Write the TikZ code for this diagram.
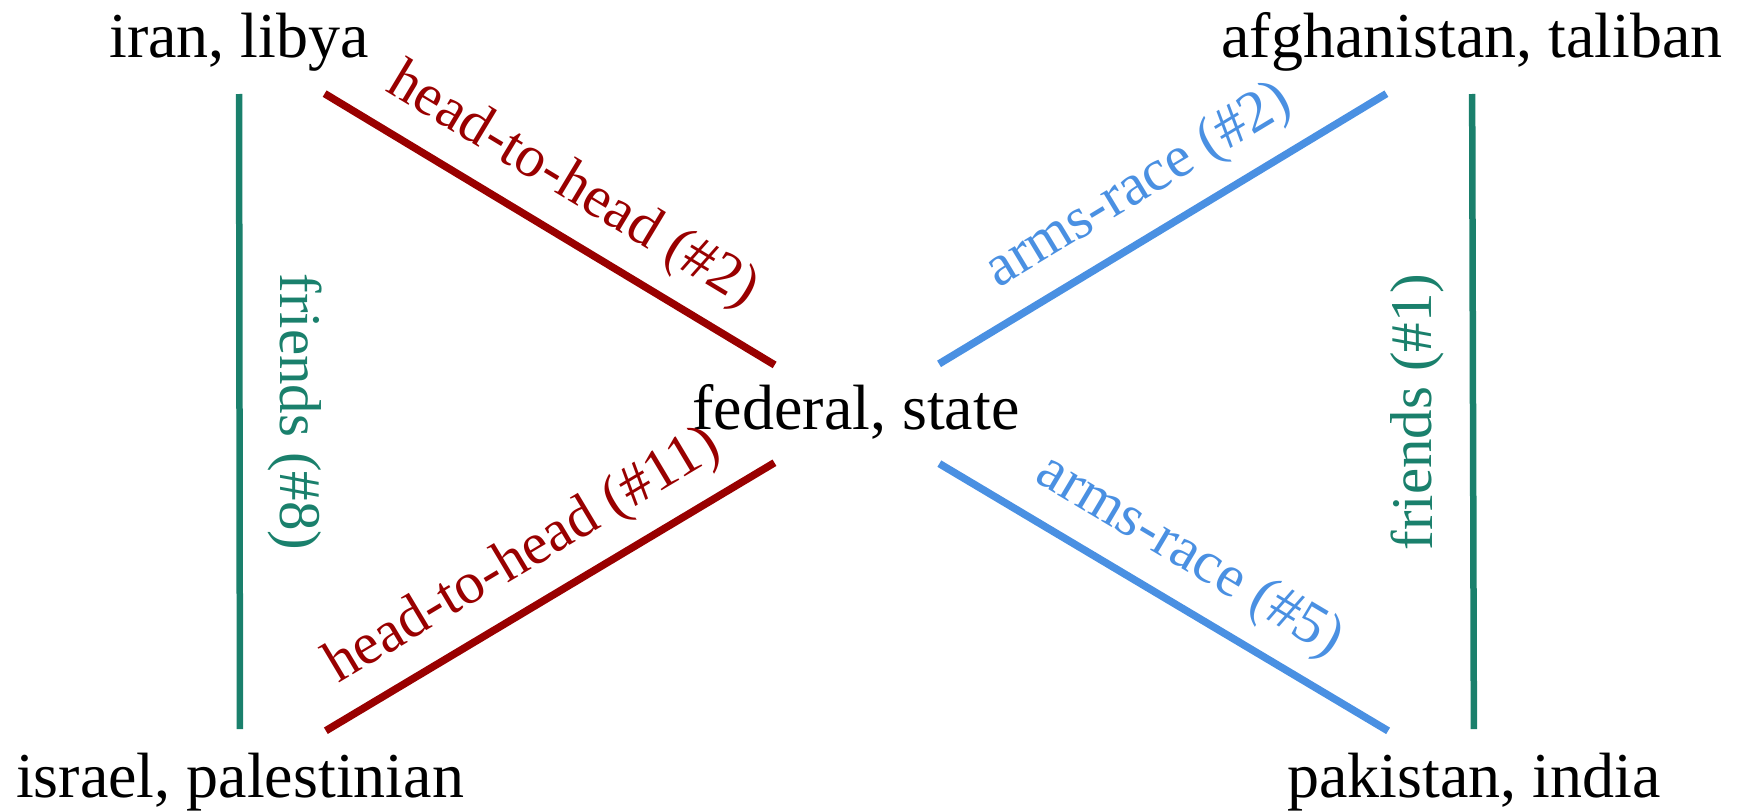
\documentclass[tikz,border=0pt]{standalone}
\usepackage{fontspec}
\setmainfont{Liberation Serif}
\definecolor{redc}{RGB}{153,0,0}
\definecolor{bluec}{RGB}{74,144,226}
\definecolor{greenc}{RGB}{26,128,108}
\tikzset{
  term/.style={font=\fontsize{64}{70}\selectfont, inner sep=0pt, text height=45pt, text depth=14pt},
  lab/.style={font=\fontsize{59}{64}\selectfont, inner sep=0pt, text height=41pt, text depth=13pt, sloped, midway},
  redline/.style={draw=redc, line width=7.5pt},
  blueline/.style={draw=bluec, line width=7.5pt},
  greenline/.style={draw=greenc, line width=6.5pt},
}
\begin{document}
\begin{tikzpicture}[x=1pt,y=-1pt]
\useasboundingbox (0,0) rectangle (1744,811);
\node[term] (iran) at (239,42) {iran, libya};
\node[term] (afg) at (1472,42) {afghanistan, taliban};
\node[term] (fed) at (856,414) {federal, state};
\node[term] (isr) at (240,782) {israel, palestinian};
\node[term] (pak) at (1474,782) {pakistan, india};

\draw[greenline, shorten <=52pt, shorten >=53pt] (iran.center) -- (isr.center)
  node[lab, above=25pt, text=greenc] {friends (\#8)};
\draw[greenline, shorten <=53pt, shorten >=52pt] (pak.center) -- (afg.center)
  node[lab, allow upside down, above=25pt, text=greenc] {friends (\#1)};

\draw[redline, shorten <=100pt, shorten >=95pt] (iran.center) -- (fed.center)
  node[lab, above=17pt, text=redc] {head-to-head (\#2)};
\draw[redline, shorten <=100pt, shorten >=95pt] (isr.center) -- (fed.center)
  node[lab, above=17pt, text=redc] {head-to-head (\#11)};

\draw[blueline, shorten <=97pt, shorten >=100pt] (fed.center) -- (afg.center)
  node[lab, above=17pt, text=bluec] {arms-race (\#2)};
\draw[blueline, shorten <=97pt, shorten >=100pt] (fed.center) -- (pak.center)
  node[lab, above=17pt, text=bluec] {arms-race (\#5)};
\end{tikzpicture}
\end{document}
